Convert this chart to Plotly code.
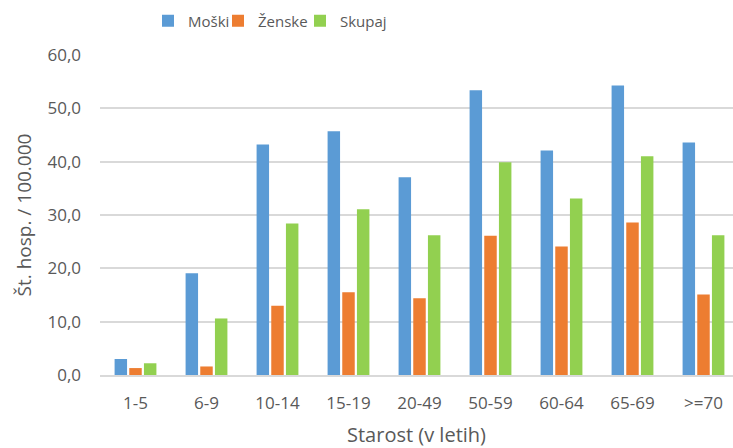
import plotly.graph_objects as go

categories = ["1-5", "6-9", "10-14", "15-19", "20-49", "50-59", "60-64", "65-69", ">=70"]
moski = [3.0, 19.1, 43.2, 45.7, 37.1, 53.4, 42.1, 54.3, 43.6]
zenske = [1.3, 1.6, 13.0, 15.5, 14.4, 26.1, 24.1, 28.6, 15.1]
skupaj = [2.2, 10.6, 28.4, 31.1, 26.2, 39.9, 33.1, 41.0, 26.2]
series_names = ["Moški", "Ženske", "Skupaj"]
colors = ["#5B9BD5", "#ED7D31", "#92D050"]
y_ticks = [0, 10, 20, 30, 40, 50, 60]

W, H = 733, 448
ML, MR, MT, MB = 100, 0, 55, 73
plot_w = W - ML - MR
cat_px = 71.0
txt = "#595959"

legend_ids = ["legend", "legend2", "legend3"]
legend_x = [148, 218, 300]

fig = go.Figure()
for name, vals, col, lid in zip(series_names, [moski, zenske, skupaj], colors, legend_ids):
    fig.add_trace(go.Bar(x=categories, y=vals, name=name, legend=lid,
                         marker=dict(color=col, line=dict(width=0))))

legend_common = dict(orientation="h", xref="container", yref="container",
                     xanchor="left", y=1 - 21 / H, yanchor="middle",
                     font=dict(family="Open Sans, sans-serif", size=15, color=txt),
                     itemwidth=30, bgcolor="rgba(0,0,0,0)")

fig.update_layout(
    width=W, height=H,
    margin=dict(l=ML, r=MR, t=MT, b=MB, pad=0, autoexpand=False),
    paper_bgcolor="white", plot_bgcolor="white",
    barmode="group", bargap=0.38, bargroupgap=0.15,
    separators=",.",
    font=dict(family="Open Sans, sans-serif", color=txt, size=17),
    showlegend=True,
    legend=dict(x=legend_x[0] / W, **legend_common),
    legend2=dict(x=legend_x[1] / W, **legend_common),
    legend3=dict(x=legend_x[2] / W, **legend_common),
    xaxis=dict(type="category", range=[-0.5, -0.5 + plot_w / cat_px], automargin=False,
               showgrid=False, showline=True, linecolor="#D9D9D9", linewidth=1.5,
               ticks="", tickfont=dict(size=17, color=txt), ticklabelstandoff=12,
               title=dict(text="Starost (v letih)", font=dict(size=20, color=txt), standoff=17)),
    yaxis=dict(range=[0, 60], tickvals=y_ticks, tickformat=".1f", automargin=False,
               showgrid=True, gridcolor="#D9D9D9", gridwidth=1.5,
               zeroline=False, showline=False, ticks="",
               tickfont=dict(size=17, color=txt), ticklabelstandoff=18,
               title=dict(text="Št. hosp. / 100.000", font=dict(size=19, color=txt), standoff=10)),
)

fig.write_html("out.html", config={"displayModeBar": False},
               post_script="document.body.style.margin='0';document.body.style.overflow='hidden';")
